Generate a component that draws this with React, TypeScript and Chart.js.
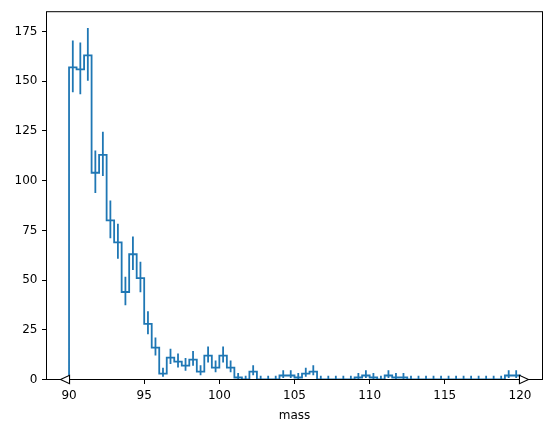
import React, { useEffect, useRef } from "react";
import { Chart, registerables } from "chart.js";

Chart.register(...registerables);

// ---- data ----
const binEdges = [
  90, 90.5, 91, 91.5, 92, 92.5, 93, 93.5, 94, 94.5,
  95, 95.5, 96, 96.5, 97, 97.5, 98, 98.5, 99, 99.5,
  100, 100.5, 101, 101.5, 102, 102.5, 103, 103.5, 104, 104.5,
  105, 105.5, 106, 106.5, 107, 107.5, 108, 108.5, 109, 109.5,
  110, 110.5, 111, 111.5, 112, 112.5, 113, 113.5, 114, 114.5,
  115, 115.5, 116, 116.5, 117, 117.5, 118, 118.5, 119, 119.5,
  120,
];
const counts = [
  157, 156, 163, 104, 113, 80, 69, 44, 63, 51,
  28, 16, 3, 11, 9, 7, 10, 4, 12, 6,
  12, 6, 1, 0, 4, 0, 0, 0, 2, 2,
  1, 3, 4, 0, 0, 0, 0, 0, 1, 2,
  1, 0, 2, 1, 1, 0, 0, 0, 0, 0,
  0, 0, 0, 0, 0, 0, 0, 0, 2, 2,
];
const xTickValues = [90, 95, 100, 105, 110, 115, 120];
const yTickValues = [0, 25, 50, 75, 100, 125, 150, 175];
const xLabel = "mass";
const xRange = [88.5, 121.5];
const yRange = [0, 185];

const lineColor = "#1f77b4";
const fontFamily = "'DejaVu Sans', sans-serif";

// Poisson (Gehrels) 1-sigma interval half-widths for counts
function poissonUp(n: number) {
  return Math.sqrt(n + 0.75) + 1;
}
function poissonDown(n: number) {
  if (n <= 0) return 0;
  const t = 1 - 1 / (9 * n) - 1 / (3 * Math.sqrt(n));
  return n - n * t * t * t;
}

function buildStep() {
  const pts: { x: number; y: number }[] = [{ x: binEdges[0], y: 0 }];
  counts.forEach((c, i) => {
    pts.push({ x: binEdges[i], y: c });
    pts.push({ x: binEdges[i + 1], y: c });
  });
  pts.push({ x: binEdges[binEdges.length - 1], y: 0 });
  return pts;
}

function buildErrors() {
  const pts: { x: number; y: number | null }[] = [];
  counts.forEach((c, i) => {
    const cx = (binEdges[i] + binEdges[i + 1]) / 2;
    pts.push({ x: cx, y: c - poissonDown(c) });
    pts.push({ x: cx, y: c + poissonUp(c) });
    pts.push({ x: cx, y: null });
  });
  return pts;
}

const framePlugin = {
  id: "frameAndHints",
  afterDraw(chart: any) {
    const { ctx, chartArea } = chart;
    const xs = chart.scales.x;
    const ys = chart.scales.y;
    ctx.save();
    ctx.strokeStyle = "#000";
    ctx.lineWidth = 1;
    ctx.strokeRect(
      chartArea.left,
      chartArea.top,
      chartArea.right - chartArea.left,
      chartArea.bottom - chartArea.top
    );
    // flow hint triangles at both histogram edges
    const y0 = ys.getPixelForValue(0);
    const lx = xs.getPixelForValue(binEdges[0]);
    const rx = xs.getPixelForValue(binEdges[binEdges.length - 1]);
    const w = 8.5;
    const h = 4.2;
    ctx.fillStyle = "#fff";
    ctx.lineWidth = 1.1;
    ctx.lineJoin = "miter";
    ctx.beginPath();
    ctx.moveTo(lx - w, y0);
    ctx.lineTo(lx + 0.5, y0 - h);
    ctx.lineTo(lx + 0.5, y0 + h);
    ctx.closePath();
    ctx.fill();
    ctx.stroke();
    ctx.beginPath();
    ctx.moveTo(rx + w, y0);
    ctx.lineTo(rx - 0.5, y0 - h);
    ctx.lineTo(rx - 0.5, y0 + h);
    ctx.closePath();
    ctx.fill();
    ctx.stroke();
    ctx.restore();
  },
};

export default function App() {
  const ref = useRef<HTMLCanvasElement | null>(null);

  useEffect(() => {
    if (!ref.current) return;
    const tickFont = { family: fontFamily, size: 12 };
    const chart = new Chart(ref.current, {
      type: "line",
      data: {
        datasets: [
          {
            data: buildStep(),
            borderColor: lineColor,
            borderWidth: 1.8,
            pointRadius: 0,
            fill: false,
            tension: 0,
            borderJoinStyle: "miter",
          },
          {
            data: buildErrors(),
            borderColor: lineColor,
            borderWidth: 1.8,
            pointRadius: 0,
            fill: false,
            tension: 0,
            spanGaps: false,
          },
        ],
      } as any,
      options: {
        animation: false,
        responsive: false,
        layout: { padding: { left: 0, right: 9.5, top: 9.5, bottom: 0 } },
        plugins: {
          legend: { display: false },
          tooltip: { enabled: false },
        },
        scales: {
          x: {
            type: "linear",
            min: xRange[0],
            max: xRange[1],
            afterBuildTicks: (s: any) => {
              s.ticks = xTickValues.map((v) => ({ value: v }));
            },
            afterFit: (s: any) => {
              s.height = 52.5;
            },
            grid: {
              drawOnChartArea: false,
              drawTicks: true,
              tickLength: 4.5,
              color: "#000",
              lineWidth: 1,
            },
            border: { display: false },
            ticks: {
              color: "#000",
              font: tickFont,
              padding: 4.5,
              maxRotation: 0,
              autoSkip: false,
              callback: (v: any) => String(v),
            },
            title: {
              display: true,
              text: xLabel,
              color: "#000",
              font: tickFont,
              padding: { top: 0, bottom: 9 },
            },
          },
          y: {
            type: "linear",
            min: yRange[0],
            max: yRange[1],
            afterBuildTicks: (s: any) => {
              s.ticks = yTickValues.map((v) => ({ value: v }));
            },
            afterFit: (s: any) => {
              s.width = 46.5;
            },
            grid: {
              drawOnChartArea: false,
              drawTicks: true,
              tickLength: 4.5,
              color: "#000",
              lineWidth: 1,
            },
            border: { display: false },
            ticks: {
              color: "#000",
              font: tickFont,
              padding: 4.5,
              autoSkip: false,
              callback: (v: any) => String(v),
            },
          },
        },
      } as any,
      plugins: [framePlugin],
    });
    return () => chart.destroy();
  }, []);

  return (
    <div style={{ position: "absolute", left: 0, top: 0, width: 552, height: 432, background: "#fff" }}>
      <canvas ref={ref} width={552} height={432} style={{ display: "block" }} />
    </div>
  );
}
